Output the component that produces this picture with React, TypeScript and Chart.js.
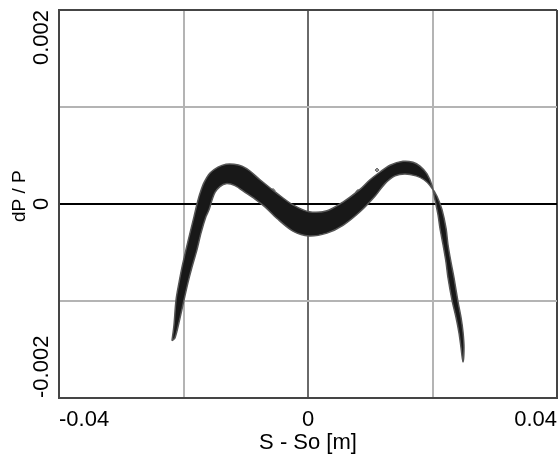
import React, { useEffect, useRef } from 'react';
import { Chart, registerables } from 'chart.js';

Chart.register(...registerables);

const X_TICKS = [-0.04, -0.02, 0, 0.02, 0.04];
const X_LABELED = [-0.04, 0, 0.04];
const Y_TICKS = [-0.002, -0.001, 0, 0.001, 0.002];
const Y_LABELED = [-0.002, 0, 0.002];
const X_TITLE = 'S - So [m]';
const Y_TITLE = 'dP / P';

// Outline of the dense particle band: upper/left edge (left -> right), then lower/right edge (right -> left)
const BAND_X = [
  -0.02185, -0.02153, -0.0212, -0.02072, -0.02024, -0.0196, -0.01896, -0.01831, -0.01783, -0.01735,
  -0.01671, -0.01574, -0.01446, -0.01317, -0.01189, -0.0106, -0.00932, -0.00771, -0.00498, -0.00241,
  0.00016, 0.00305, 0.00562, 0.00835, 0.00996, 0.01157, 0.01317, 0.01526, 0.01687, 0.01799,
  0.01912, 0.01992, 0.0204, 0.02088, 0.0212, 0.02169, 0.02217, 0.02249, 0.02313, 0.02378,
  0.02426, 0.02458, 0.0249,
  0.02506, 0.0249, 0.02458, 0.0241, 0.02345, 0.02297, 0.02249, 0.02217, 0.02153, 0.02072,
  0.0196, 0.01863, 0.01735, 0.01558, 0.01398, 0.01237, 0.01076, 0.00835, 0.00562, 0.00305,
  0.00016, -0.00241, -0.00498, -0.00691, -0.00851, -0.01012, -0.01173, -0.01317, -0.01414, -0.01494,
  -0.01542, -0.0159, -0.01639, -0.01719, -0.01783, -0.01863, -0.01928, -0.01992, -0.02072, -0.02137,
  -0.02185,
];
const BAND_Y = [
  -0.00141, -0.00125, -0.00099, -0.00081, -0.00065, -0.00047, -0.0003, -0.00013, 0.0, 0.00011,
  0.00022, 0.00032, 0.00038, 0.00041, 0.00041, 0.00039, 0.00034, 0.00025, 0.00011, -0.00001,
  -0.00008, -0.00007, 0.00002, 0.00015, 0.00025, 0.00033, 0.0004, 0.00044, 0.00043, 0.00039,
  0.00031, 0.00019, 0.00004, -0.00011, -0.00025, -0.00042, -0.0006, -0.00076, -0.00099, -0.00117,
  -0.00133, -0.00148, -0.00163,
  -0.00148, -0.00132, -0.00117, -0.00101, -0.00076, -0.0006, -0.00042, -0.00025, -0.00006, 0.00008,
  0.00019, 0.00025, 0.00029, 0.00031, 0.00029, 0.00021, 0.00008, -0.00008, -0.00022, -0.0003,
  -0.00033, -0.00028, -0.00015, -0.00003, 0.00005, 0.00012, 0.00019, 0.00021, 0.00018, 0.00012,
  0.00004, -0.00006, -0.00013, -0.0003, -0.00047, -0.00065, -0.00081, -0.00099, -0.00122, -0.00138,
  -0.00141,
];

// a few stray particles just outside the band
const STRAY_X = [-0.00562, 0.00803, 0.01109];
const STRAY_Y = [0.00014, 0.00013, 0.00035];

const FONT = 'Liberation Sans, Arial, sans-serif';
const W = 558;
const H = 457;

const yLabelAlign = {
  id: 'yLabelAlign',
  beforeDraw(chart: any) {
    const s: any = chart.scales.y;
    const items = s.getLabelItems(chart.chartArea);
    items.forEach((it: any) => {
      const lbl = String(it.label);
      if (lbl === String(Y_LABELED[0])) it.options.textAlign = 'left';
      else if (lbl === String(Y_LABELED[Y_LABELED.length - 1])) it.options.textAlign = 'right';
      else it.options.textAlign = 'center';
    });
  },
};

export default function App() {
  const ref = useRef<HTMLCanvasElement | null>(null);

  useEffect(() => {
    if (!ref.current) return;
    const gridColor = (minV: number, maxV: number, zeroColor: string) => (c: any) => {
      const v = c.tick ? c.tick.value : NaN;
      if (Math.abs(v) < 1e-12) return zeroColor;
      if (Math.abs(v - minV) < 1e-12 || Math.abs(v - maxV) < 1e-12) return '#454545';
      return '#b4b4b4';
    };
    const chart = new Chart(ref.current, {
      type: 'line',
      data: {
        datasets: [
          {
            label: 'band',
            data: BAND_X.map((x, i) => ({ x, y: BAND_Y[i] })),
            borderColor: '#555555',
            borderWidth: 1.5,
            backgroundColor: '#181818',
            fill: 'shape',
            tension: 0.3,
            pointRadius: 0,
          } as any,
          {
            label: 'stray',
            data: STRAY_X.map((x, i) => ({ x, y: STRAY_Y[i] })),
            showLine: false,
            pointStyle: 'rectRot',
            pointRadius: 2,
            borderWidth: 1,
            borderColor: '#666',
            backgroundColor: '#999',
          } as any,
        ],
      },
      plugins: [yLabelAlign],
      options: {
        animation: false,
        responsive: false,
        devicePixelRatio: 1,
        layout: { autoPadding: false, padding: { left: 0, top: 10, right: 1, bottom: 0 } },
        plugins: { legend: { display: false }, tooltip: { enabled: false } },
        scales: {
          x: {
            type: 'linear',
            min: -0.04,
            max: 0.04,
            afterBuildTicks: (s: any) => {
              s.ticks = X_TICKS.map((v) => ({ value: v }));
            },
            afterFit: (s: any) => {
              s.height = 59;
              s.paddingLeft = 0;
              s.paddingRight = 0;
            },
            grid: {
              color: gridColor(-0.04, 0.04, '#6a6a6a'),
              lineWidth: 2,
              drawTicks: false,
            },
            border: { display: true, color: '#454545', width: 2 },
            ticks: {
              autoSkip: false,
              align: 'inner',
              padding: 9,
              maxRotation: 0,
              minRotation: 0,
              color: '#000',
              font: { family: FONT, size: 22 },
              callback: (v: any) => (X_LABELED.some((t) => Math.abs(t - v) < 1e-12) ? String(v) : ''),
            },
            title: {
              display: true,
              text: X_TITLE,
              color: '#000',
              font: { family: FONT, size: 22 },
              padding: { top: 0, bottom: 1 },
            },
          },
          y: {
            type: 'linear',
            min: -0.002,
            max: 0.002,
            afterBuildTicks: (s: any) => {
              s.ticks = Y_TICKS.map((v) => ({ value: v }));
            },
            afterFit: (s: any) => {
              s.width = 59;
              s.paddingTop = 0;
              s.paddingBottom = 0;
            },
            grid: {
              color: gridColor(-0.002, 0.002, '#000'),
              lineWidth: 2,
              drawTicks: false,
            },
            border: { display: true, color: '#454545', width: 2 },
            ticks: {
              autoSkip: false,
              padding: 17,
              minRotation: 90,
              maxRotation: 90,
              color: '#000',
              font: { family: FONT, size: 22 },
              callback: (v: any) => (Y_LABELED.some((t) => Math.abs(t - v) < 1e-12) ? String(v) : ''),
            },
            title: {
              display: true,
              text: '   ' + Y_TITLE,
              color: '#000',
              font: { family: FONT, size: 19 },
              padding: { top: 8.6, bottom: 0 },
            },
          },
        },
      },
    });
    return () => chart.destroy();
  }, []);

  return (
    <div style={{ position: 'fixed', left: 0, top: 0, width: W, height: H, background: '#fff' }}>
      <canvas ref={ref} width={W} height={H} style={{ width: W, height: H, display: 'block' }} />
    </div>
  );
}
